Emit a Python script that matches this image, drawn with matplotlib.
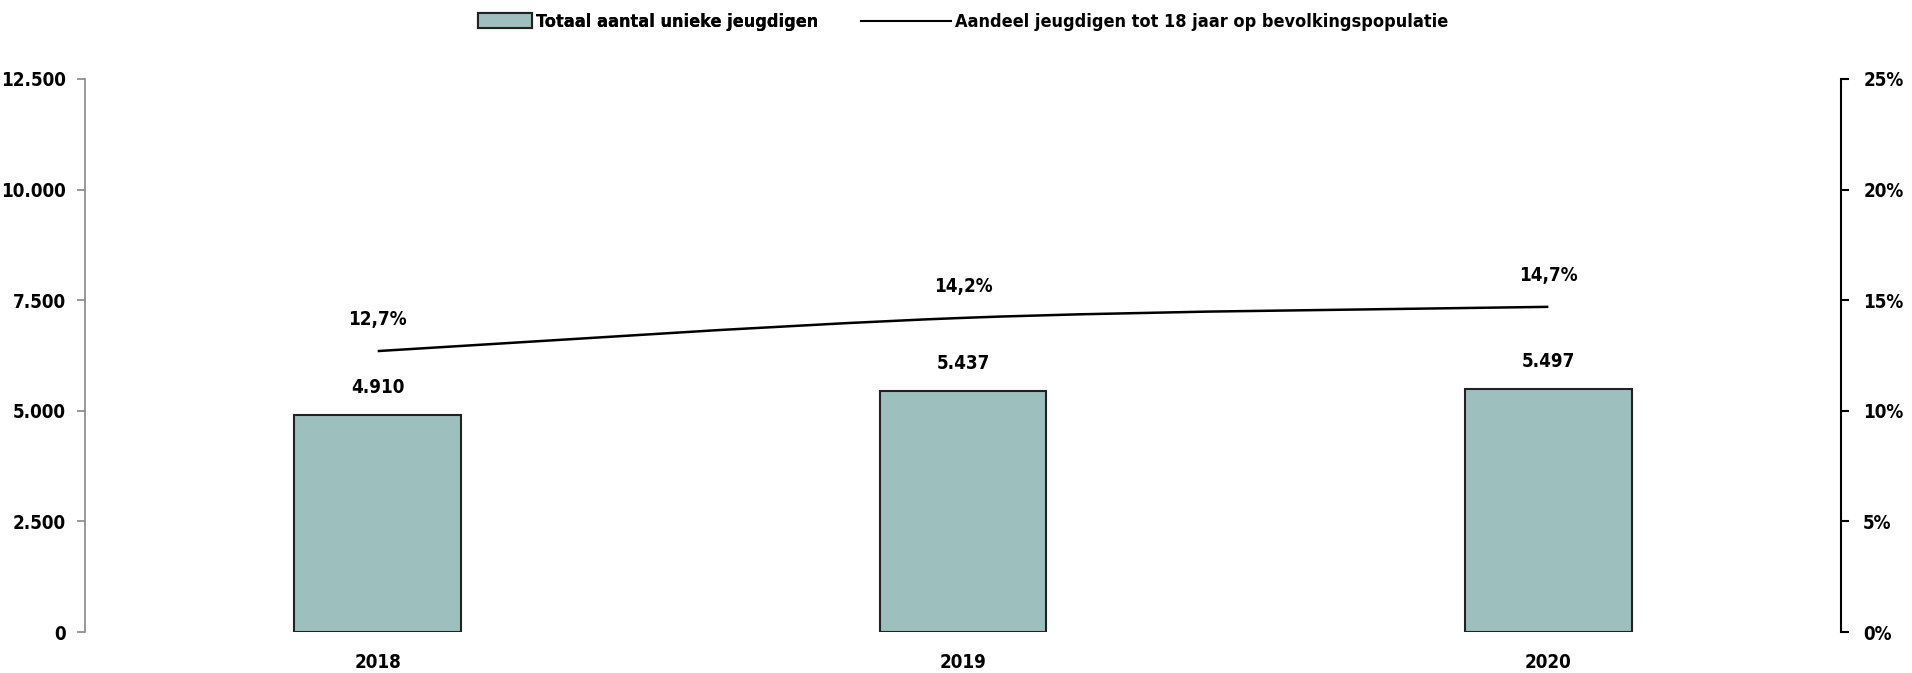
import matplotlib
matplotlib.use("Agg")
import matplotlib.pyplot as plt
from matplotlib.path import Path
from matplotlib.patches import PathPatch
from matplotlib.lines import Line2D
from matplotlib.patches import Patch
import numpy as np

years = ["2018", "2019", "2020"]
totals = [4910, 5437, 5497]
shares = [12.7, 14.2, 14.7]
total_labels = ["4.910", "5.437", "5.497"]
share_labels = ["12,7%", "14,2%", "14,7%"]
left_ticks = [0, 2500, 5000, 7500, 10000, 12500]
left_tick_labels = ["0", "2.500", "5.000", "7.500", "10.000", "12.500"]
right_ticks = [0, 5, 10, 15, 20, 25]
right_tick_labels = ["0%", "5%", "10%", "15%", "20%", "25%"]

plt.rcParams['font.family'] = ['DejaVu Sans']
FONT = dict(family='DejaVu Sans', stretch='condensed', weight='bold')
FS = 13.5

fig = plt.figure(figsize=(19.12, 6.73), dpi=100)
ax = fig.add_axes([85/1912, 1-632/673, (1841-85)/1912, (632-79)/673])
ax2 = ax.twinx()

bar_color = "#9DBFBD"
x = np.arange(len(years))
ax.bar(x, totals, width=0.285, color=bar_color, edgecolor="#222222", linewidth=1.5, zorder=2)
ax.set_xlim(-0.5, 2.5)
ax.set_ylim(0, 12500)
ax.set_yticks(left_ticks)
ax.set_yticklabels(left_tick_labels, fontsize=FS, **FONT)
ax.set_xticks(x)
ax.set_xticklabels(years, fontsize=FS, **FONT)
ax.tick_params(axis='x', length=0, pad=15)
ax.tick_params(axis='y', colors="#888888", labelcolor="black", length=6, width=1.2, pad=8)
for s in ["top", "right", "bottom"]:
    ax.spines[s].set_visible(False)
ax.spines["left"].set_color("#888888")
ax.spines["left"].set_linewidth(1.2)

for xi, v, lab in zip(x, totals, total_labels):
    ax.annotate(lab, (xi, v), xytext=(0, 13), textcoords="offset points",
                ha="center", va="bottom", fontsize=FS, **FONT)

# smooth line through share points (Bezier via Catmull-Rom control points)
px = np.array(x, dtype=float)
py = np.array(shares, dtype=float)
verts = [(px[0], py[0])]
codes = [Path.MOVETO]
n = len(px)
for i in range(n - 1):
    p0 = (px[max(i-1, 0)], py[max(i-1, 0)])
    p1 = (px[i], py[i])
    p2 = (px[i+1], py[i+1])
    p3 = (px[min(i+2, n-1)], py[min(i+2, n-1)])
    c1 = (p1[0] + (p2[0]-p0[0])/6, p1[1] + (p2[1]-p0[1])/6)
    c2 = (p2[0] - (p3[0]-p1[0])/6, p2[1] - (p3[1]-p1[1])/6)
    verts += [c1, c2, p2]
    codes += [Path.CURVE4] * 3
ax2.add_patch(PathPatch(Path(verts, codes), facecolor="none", edgecolor="black", linewidth=1.8, zorder=3))

ax2.set_ylim(0, 25)
ax2.set_yticks(right_ticks)
ax2.set_yticklabels(right_tick_labels, fontsize=FS, **FONT)
ax2.tick_params(axis='y', length=6, width=1.5, pad=10)
for s in ["top", "left", "bottom"]:
    ax2.spines[s].set_visible(False)
ax2.spines["right"].set_linewidth(1.5)
ax2.spines["right"].set_color("black")

for xi, v, lab in zip(x, shares, share_labels):
    ax2.annotate(lab, (xi, v), xytext=(0, 16), textcoords="offset points",
                 ha="center", va="bottom", fontsize=FS, **FONT)

leg1 = fig.legend([Patch(facecolor=bar_color, edgecolor="#222222", linewidth=1.5)],
                  ["Totaal aantal unieke jeugdigen"],
                  loc="center left", bbox_to_anchor=(478/1912, 1-22/673), frameon=False,
                  prop=dict(size=13, **FONT), handlelength=3.0, handleheight=0.9,
                  handletextpad=0.2, borderpad=0, borderaxespad=0)
leg2 = fig.legend([Line2D([0], [0], color="black", linewidth=1.5)],
                  ["Aandeel jeugdigen tot 18 jaar op bevolkingspopulatie"],
                  loc="center left", bbox_to_anchor=(861/1912, 1-22/673), frameon=False,
                  prop=dict(size=13, **FONT), handlelength=5.0,
                  handletextpad=0.2, borderpad=0, borderaxespad=0)
fig.add_artist(leg1)

fig.savefig("out.png", dpi=100)
